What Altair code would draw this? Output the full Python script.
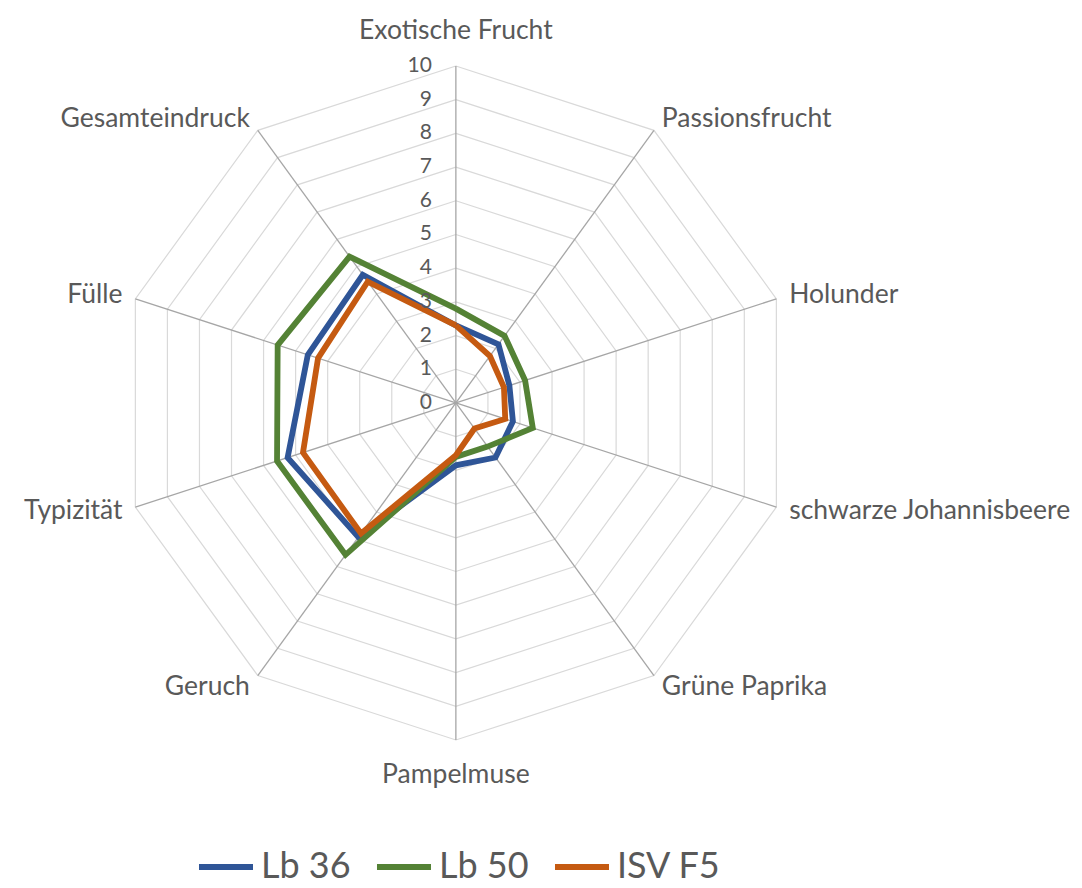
import altair as alt
import pandas as pd

categories = ["Exotische Frucht", "Passionsfrucht", "Holunder", "schwarze Johannisbeere",
              "Grüne Paprika", "Pampelmuse", "Geruch", "Typizität", "Fülle", "Gesamteindruck"]
series_names = ["Lb 36", "Lb 50", "ISV F5"]
lb36 = [2.3, 2.15, 1.67, 1.78, 2.0, 1.85, 4.92, 5.25, 4.62, 4.7]
lb50 = [2.8, 2.46, 2.16, 2.4, 1.6, 1.6, 5.57, 5.58, 5.56, 5.37]
isvf5 = [2.3, 1.72, 1.5, 1.54, 0.94, 1.55, 4.79, 4.77, 4.3, 4.45]
ticks = list(range(0, 11))
colors = ["#2f5597", "#548235", "#c55a11"]

N = len(categories)
UNIT = 33.7  # px per unit
XMAX = 13.29
YMAX = 11.72

# series table (closed polygons)
rows = []
for name, vals in zip(series_names, [lb36, lb50, isvf5]):
    for i in range(N + 1):
        rows.append({"series": name, "i": i, "v": vals[i % N]})
series_df = pd.DataFrame(rows)

# grid rings
ring_rows = []
for lvl in ticks[1:]:
    for i in range(N + 1):
        ring_rows.append({"level": lvl, "i": i})
ring_df = pd.DataFrame(ring_rows)

spoke_df = pd.DataFrame({"i": list(range(N)), "cat": categories})
tick_df = pd.DataFrame({"t": ticks})

xs = alt.Scale(domain=[-XMAX, XMAX])
ys = alt.Scale(domain=[-YMAX, YMAX])
ang = f"datum.i * 2 * PI / {N}"

rings = alt.Chart(ring_df).transform_calculate(
    x=f"datum.level * sin({ang})", y=f"datum.level * cos({ang})"
).mark_line(color="#d9d9d9", strokeWidth=1.2).encode(
    x=alt.X("x:Q", scale=xs, axis=None),
    y=alt.Y("y:Q", scale=ys, axis=None),
    detail="level:N",
    order="i:Q",
)

spokes = alt.Chart(spoke_df).transform_calculate(
    x0="0", y0="0", x=f"10 * sin({ang})", y=f"10 * cos({ang})"
).mark_rule(color="#a6a6a6", strokeWidth=1.3).encode(
    x=alt.X("x0:Q", scale=xs, axis=None),
    y=alt.Y("y0:Q", scale=ys, axis=None),
    x2="x:Q",
    y2="y:Q",
)

lines = alt.Chart(series_df).transform_calculate(
    x=f"datum.v * sin({ang})", y=f"datum.v * cos({ang})"
).mark_line(strokeWidth=5.8, strokeJoin="miter").encode(
    x=alt.X("x:Q", scale=xs, axis=None),
    y=alt.Y("y:Q", scale=ys, axis=None),
    color=alt.Color(
        "series:N",
        scale=alt.Scale(domain=series_names, range=colors),
        legend=alt.Legend(
            title=None, orient="none", direction="horizontal",
            legendX=188, legendY=829,
            symbolType="stroke", symbolSize=2916, symbolStrokeWidth=5.8,
            labelFontSize=36, labelFont="Lato", labelColor="#595959",
            labelOffset=5, columnPadding=14, symbolOffset=0,
        ),
    ),
    order="i:Q",
)

tick_labels = alt.Chart(tick_df).transform_calculate(x0="0").mark_text(
    align="right", baseline="middle", dx=-24, fontSize=21, font="Lato", color="#595959"
).encode(
    x=alt.X("x0:Q", scale=xs, axis=None),
    y=alt.Y("t:Q", scale=ys, axis=None),
    text="t:Q",
)

def cat_layer(filt, r, align):
    return alt.Chart(spoke_df).transform_calculate(
        s=f"sin({ang})", c=f"cos({ang})"
    ).transform_filter(filt).transform_calculate(
        x=f"{r} * datum.s", y=f"{r} * datum.c"
    ).mark_text(
        align=align, baseline="middle", fontSize=26.5, font="Lato", color="#595959"
    ).encode(
        x=alt.X("x:Q", scale=xs, axis=None),
        y=alt.Y("y:Q", scale=ys, axis=None),
        text="cat:N",
    )

lab_mid = cat_layer("abs(datum.s) < 0.01", 11.05, "center")
lab_right = cat_layer("datum.s > 0.01", 10.4, "left")
lab_left = cat_layer("datum.s < -0.01", 10.4, "right")

chart = alt.layer(rings, spokes, lines, tick_labels, lab_mid, lab_right, lab_left).properties(
    width=2 * XMAX * UNIT, height=2 * YMAX * UNIT, padding=0
).configure_view(stroke=None)

chart.save("out.html", embed_options={"renderer": "svg", "actions": False})
